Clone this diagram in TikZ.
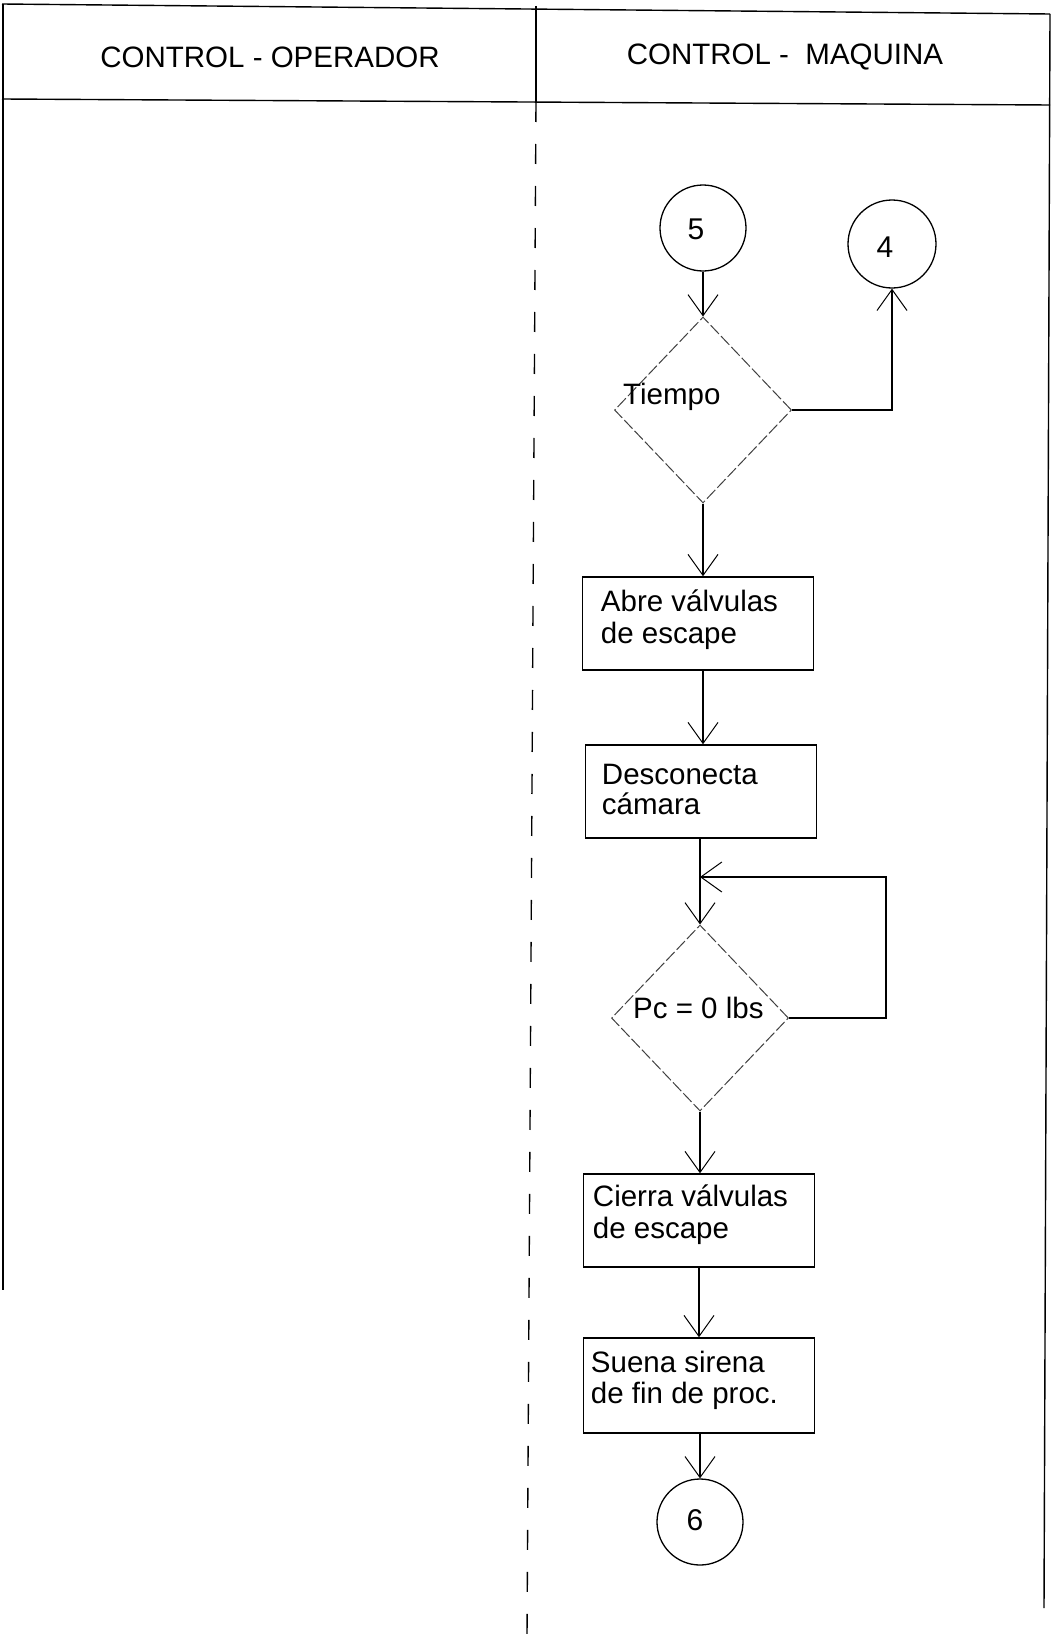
\documentclass[tikz,border=0pt]{standalone}
\usepackage{fontspec}
\setmainfont{Liberation Sans}
\usetikzlibrary{arrows.meta,shapes.geometric,calc}

\begin{document}
\begin{tikzpicture}[x=1pt,y=-1pt,
  frame/.style={line width=1.4pt},
  lane/.style={line width=1.4pt, dash pattern=on 20pt off 22pt},
  connector/.style={circle, draw, line width=1.3pt, minimum size=86pt, inner sep=0pt},
  stepbox/.style={rectangle, draw, line width=1.5pt, minimum width=231pt, minimum height=93pt, inner sep=0pt},
  decision/.style={diamond, draw=black!75, line width=1pt, dash pattern=on 12pt off 3pt,
    minimum width=177pt, minimum height=186pt, inner sep=0pt},
  flow/.style={line width=1.3pt, -{Straight Barb[length=21pt,width=30pt,line width=1pt]}},
  head/.style={font=\fontsize{29.5}{34}\selectfont},
  txt/.style={font=\fontsize{29.5}{33}\selectfont, inner sep=0pt, anchor=base west},
  num/.style={font=\fontsize{30}{34}\selectfont},
]
\useasboundingbox (0,0) rectangle (1055,1635);

% swimlane frame
\draw[frame] (2,4) -- (1050,14);
\draw[frame] (2,99) -- (1050,105);
\draw[frame] (3,4) -- (3,1290);
\draw[frame] (1050,14) -- (1044,1608);
\draw[frame] (536,6) -- (536,102);
\draw[lane] (536,102) -- (527,1635);

\node[head] (h1) at (270,57) {CONTROL - OPERADOR};
\node[head] (h2) at (785,57) {CONTROL - \ MAQUINA};

% connectors
\node[connector, label={[num,xshift=-7pt,yshift=-1pt]center:5}] (c5) at (703,228) {};
\node[connector, minimum size=88pt, label={[num,xshift=-7pt,yshift=-3pt]center:4}] (c4) at (892,244) {};
\node[connector, label={[num,xshift=-5pt,yshift=2pt]center:6}] (c6) at (700,1522) {};

% decisions
\node[decision] (d1) at (703,410) {};
\node[txt] at ($(d1.center)+(-80,-6)$) {Tiempo};
\node[decision] (d2) at (700,1018) {};
\node[txt] at ($(d2.center)+(-67,0)$) {Pc = 0 lbs};

% process steps
\node[stepbox] (b1) at (698,623.5) {};
\node[txt] at ($(b1.north west)+(19,35)$) {Abre válvulas};
\node[txt] at ($(b1.north west)+(19,67)$) {de escape};

\node[stepbox] (b2) at (701,791.5) {};
\node[txt] at ($(b2.north west)+(17,40)$) {Desconecta};
\node[txt] at ($(b2.north west)+(17,70)$) {cámara};

\node[stepbox] (b3) at (699,1220.5) {};
\node[txt] at ($(b3.north west)+(10,33)$) {Cierra válvulas};
\node[txt] at ($(b3.north west)+(10,65)$) {de escape};

\node[stepbox, minimum height=95pt] (b4) at (699,1385.5) {};
\node[txt] at ($(b4.north west)+(8,35)$) {Suena sirena};
\node[txt] at ($(b4.north west)+(8,66)$) {de fin de proc.};

% flow
\draw[flow] (c5) -- (d1);
\draw[flow] (d1.east) -| (c4.south);
\draw[flow] (d1.south) -- (d1.south |- b1.north);
\draw[flow] (b1.south -| d1.south) -- (b2.north -| d1.south);
\draw[flow] (b2.south -| d2.north) -- (d2.north);
\coordinate (lp) at (886,877);
\draw[flow] (d2.east) -| (lp) -- (lp -| d2.north);
\draw[flow] (d2.south) -- (d2.south |- b3.north);
\draw[flow] (b3.south) -- (b4.north);
\draw[flow] (b4.south -| c6.north) -- (c6.north);
\end{tikzpicture}
\end{document}
